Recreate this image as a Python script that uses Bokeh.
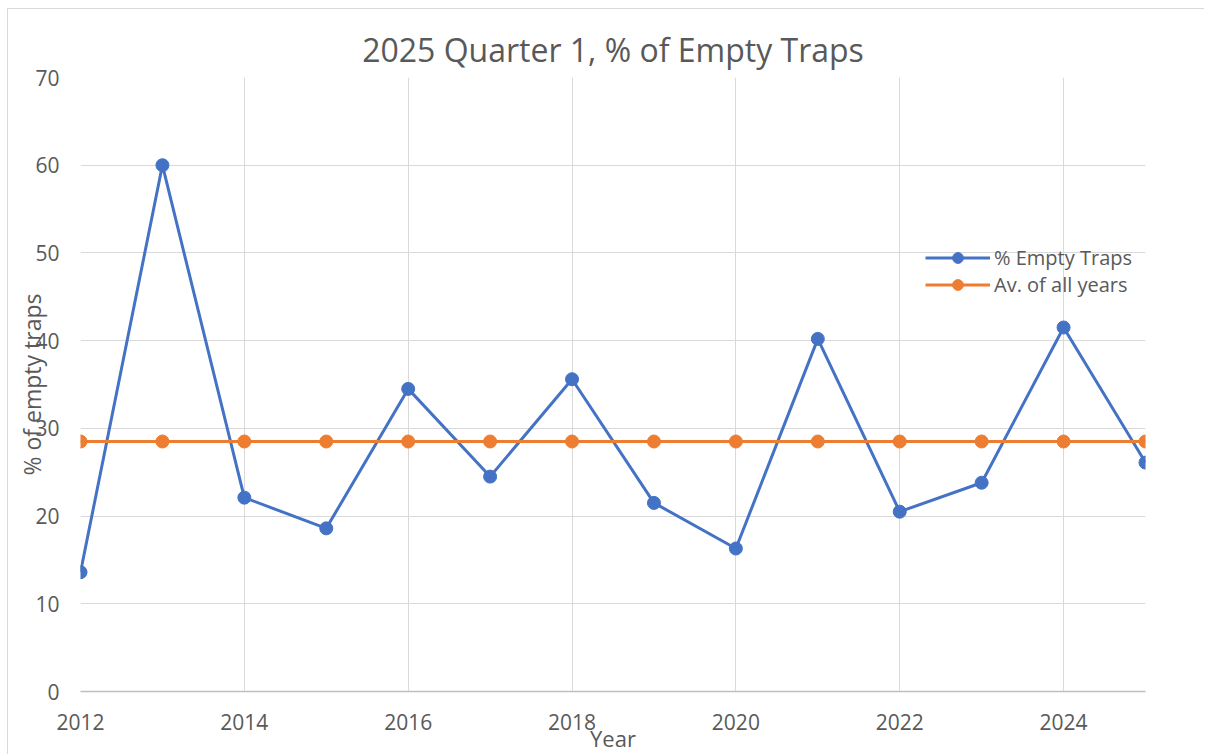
from bokeh.plotting import figure
from bokeh.models import Range1d, FixedTicker, Legend, LegendItem
from bokeh.embed import file_html
from bokeh.resources import INLINE

years = [2012, 2013, 2014, 2015, 2016, 2017, 2018, 2019, 2020, 2021, 2022, 2023, 2024, 2025]
pct_empty = [13.6, 60.0, 22.1, 18.6, 34.5, 24.5, 35.6, 21.5, 16.3, 40.2, 20.5, 23.8, 41.5, 26.1]
avg_all = [28.5] * len(years)
x_ticks = [2012, 2014, 2016, 2018, 2020, 2022, 2024]
y_ticks = [0, 10, 20, 30, 40, 50, 60, 70]

title_text = "2025 Quarter 1, % of Empty Traps"
x_label = "Year"
y_label = "% of empty traps"
series_names = ["% Empty Traps", "Av. of all years"]

FONT = "Open Sans"
GREY = "#595959"
BLUE = "#4472C4"
ORANGE = "#ED7D31"

p = figure(width=1197, height=746, output_backend="svg", toolbar_location=None,
           x_range=Range1d(2012, 2025), y_range=Range1d(0, 70),
           min_border_left=72, min_border_right=60, min_border_top=68, min_border_bottom=63,
           title=title_text)
p.styles = {"margin-left": "7px", "margin-top": "8px",
            "border-top": "1px solid #d9d9d9", "border-left": "1px solid #d9d9d9"}
p.outline_line_color = None
p.background_fill_color = "white"

p.title.align = "center"
p.title.text_font = FONT
p.title.text_font_size = "32px"
p.title.text_font_style = "normal"
p.title.text_color = GREY
p.title.standoff = 13
p.title.offset = -4

p.xaxis.ticker = FixedTicker(ticks=x_ticks)
p.yaxis.ticker = FixedTicker(ticks=y_ticks)
p.xgrid.ticker = FixedTicker(ticks=x_ticks)
p.ygrid.ticker = FixedTicker(ticks=y_ticks[1:])
for g in (p.xgrid, p.ygrid):
    g.grid_line_color = "#d9d9d9"
    g.grid_line_width = 1

for ax in (p.xaxis, p.yaxis):
    ax.major_tick_line_color = None
    ax.minor_tick_line_color = None
    ax.major_label_text_font = FONT
    ax.major_label_text_font_size = "21px"
    ax.major_label_text_color = GREY
    ax.axis_label_text_font = FONT
    ax.axis_label_text_font_style = "normal"
    ax.axis_label_text_color = GREY
p.xaxis.axis_label_text_font_size = "22px"
p.yaxis.axis_label_text_font_size = "23px"
p.xaxis.axis_line_color = "#bfbfbf"
p.xaxis.axis_line_width = 1.5
p.yaxis.axis_line_color = None
p.yaxis.major_label_standoff = 15
p.xaxis.major_label_standoff = 16
p.xaxis.axis_label = x_label
p.yaxis.axis_label = y_label
p.xaxis.axis_label_standoff = -10
p.yaxis.axis_label_standoff = -16

r1 = p.line(years, pct_empty, line_color=BLUE, line_width=3)
s1 = p.scatter(years, pct_empty, size=13, fill_color=BLUE, line_color=BLUE)
r2 = p.line(years, avg_all, line_color=ORANGE, line_width=3)
s2 = p.scatter(years, avg_all, size=13, fill_color=ORANGE, line_color=ORANGE)

legend = Legend(items=[LegendItem(label=series_names[0], renderers=[r1, s1]),
                       LegendItem(label=series_names[1], renderers=[r2, s2])],
                location=(845, 393), padding=0, margin=0, spacing=0,
                glyph_width=65, glyph_height=27, label_height=27, label_standoff=4,
                label_text_font=FONT, label_text_font_size="20px", label_text_color=GREY,
                background_fill_alpha=0, border_line_color=None)
p.add_layout(legend, "center")

open("out.html", "w").write(file_html(p, INLINE))
